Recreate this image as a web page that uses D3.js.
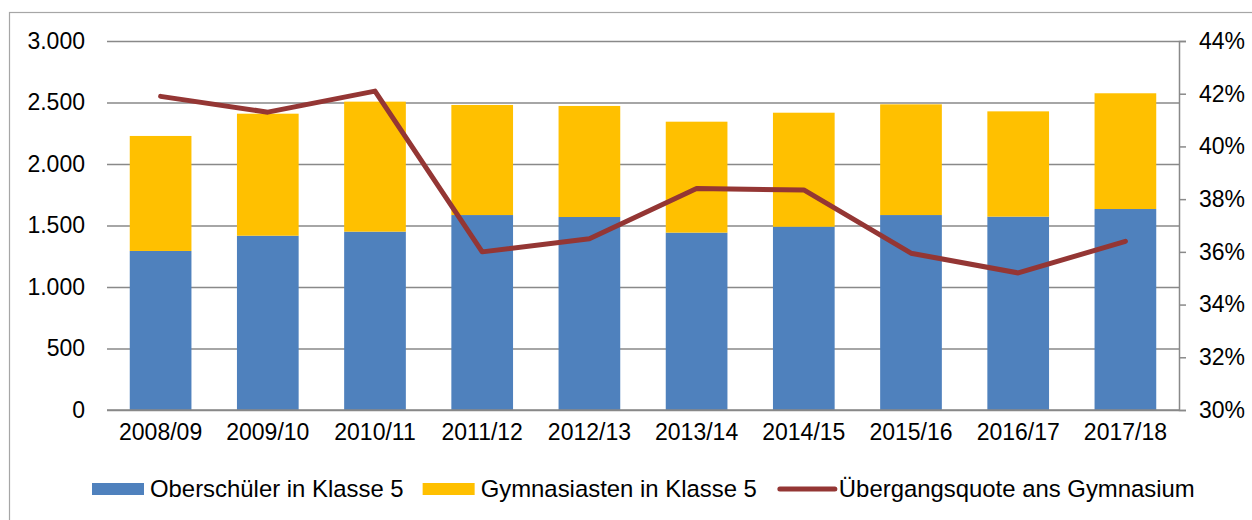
<!DOCTYPE html>
<html><head><meta charset="utf-8">
<script src="https://cdn.jsdelivr.net/npm/d3@7"></script>
<style>
html,body{margin:0;padding:0;background:#fff;}
svg{display:block;font-family:"Liberation Sans",Arial,sans-serif;}
</style></head>
<body>
<svg id="chart" width="1252" height="520"></svg>
<script>
const categories = ["2008/09","2009/10","2010/11","2011/12","2012/13","2013/14","2014/15","2015/16","2016/17","2017/18"];
const oberschueler = [1293,1417,1450,1585,1569,1442,1490,1585,1572,1634];
const gymnasiasten = [935,992,1057,895,903,902,927,900,856,941];
const quote = [0.419,0.413,0.421,0.360,0.365,0.384,0.3835,0.3595,0.352,0.364];
const leftTicks = [0,500,1000,1500,2000,2500,3000];
const rightTicks = [0.30,0.32,0.34,0.36,0.38,0.40,0.42,0.44];
const seriesNames = ["Oberschüler in Klasse 5","Gymnasiasten in Klasse 5","Übergangsquote ans Gymnasium"];

const colors = {ober:"#4F81BD", gym:"#FFC000", line:"#943634", grid:"#898989"};
const svg = d3.select("#chart");
const fontSize = 23;
const legendFontSize = 23.9;

const plotL = 107, plotR = 1179, plotT = 41, plotB = 410;
const de = d3.formatLocale({decimal:",", thousands:".", grouping:[3], currency:["","€"]});
const fmtL = de.format(",.0f");
const fmtR = de.format(".0%");

// frame
svg.append("rect").attr("x",9.5).attr("y",12.5).attr("width",1300).attr("height",600)
  .attr("fill","none").attr("stroke","#a6a6a6").attr("stroke-width",1.2);

const x = d3.scaleBand().domain(categories).range([plotL,plotR]).paddingInner(0.4245).paddingOuter(0.21225);
const y = d3.scaleLinear().domain([0,3000]).range([plotB,plotT]);
const y2 = d3.scaleLinear().domain([0.30,0.44]).range([plotB,plotT]);

// gridlines
const gAxisL = svg.append("g").attr("transform",`translate(${plotL},0)`)
  .call(d3.axisLeft(y).tickValues(leftTicks).tickFormat(fmtL).tickSize(-(plotR-plotL)).tickPadding(22));
gAxisL.select(".domain").remove();
gAxisL.selectAll(".tick line").attr("stroke",colors.grid).attr("stroke-width",1.5);
gAxisL.selectAll(".tick text").attr("font-size",fontSize).attr("fill","#000").attr("font-family","Liberation Sans, Arial, sans-serif");

// bars
const stackData = categories.map((c,i)=>({cat:c, ober:oberschueler[i], gym:gymnasiasten[i]}));
const stack = d3.stack().keys(["ober","gym"])(stackData);
svg.append("g").selectAll("g").data(stack).join("g")
  .attr("fill",d=>d.key==="ober"?colors.ober:colors.gym)
  .selectAll("rect").data(d=>d).join("rect")
  .attr("x",d=>x(d.data.cat)).attr("width",x.bandwidth())
  .attr("y",d=>y(d[1])).attr("height",d=>y(d[0])-y(d[1]));

// bottom axis line
svg.append("line").attr("x1",plotL).attr("x2",plotR).attr("y1",plotB).attr("y2",plotB)
  .attr("stroke",colors.grid).attr("stroke-width",1.5);

// x labels
const gx = svg.append("g").attr("transform",`translate(0,${plotB})`)
  .call(d3.axisBottom(x).tickSize(0).tickPadding(14));
gx.select(".domain").remove();
gx.selectAll(".tick text").attr("font-size",fontSize).attr("fill","#000").attr("font-family","Liberation Sans, Arial, sans-serif");

// right axis
const gR = svg.append("g").attr("transform",`translate(${plotR},0)`)
  .call(d3.axisRight(y2).tickValues(rightTicks).tickFormat(fmtR).tickSize(7).tickPadding(13));
gR.select(".domain").attr("stroke",colors.grid).attr("stroke-width",1.5);
gR.selectAll(".tick line").attr("stroke",colors.grid).attr("stroke-width",1.5);
gR.selectAll(".tick text").attr("font-size",fontSize).attr("fill","#000").attr("font-family","Liberation Sans, Arial, sans-serif");

// line
const line = d3.line().x((d,i)=>x(categories[i])+x.bandwidth()/2).y(d=>y2(d));
svg.append("path").datum(quote).attr("d",line).attr("fill","none")
  .attr("stroke",colors.line).attr("stroke-width",5).attr("stroke-linejoin","round").attr("stroke-linecap","round");

// legend
const leg = svg.append("g");
let lx = 92; const ly = 489;
seriesNames.forEach((name,i)=>{
  if(i<2){
    leg.append("rect").attr("x",lx).attr("y",ly-6).attr("width",52).attr("height",12)
      .attr("fill",i===0?colors.ober:colors.gym);
  } else {
    leg.append("line").attr("x1",lx+4).attr("x2",lx+59).attr("y1",ly).attr("y2",ly)
      .attr("stroke",colors.line).attr("stroke-width",5).attr("stroke-linecap","round");
  }
  const tx = i<2 ? lx+58 : lx+63;
  const t = leg.append("text").attr("x",tx).attr("y",ly).attr("dy","0.35em")
    .attr("font-size",legendFontSize).attr("fill","#000").text(name);
  lx = tx + t.node().getComputedTextLength() + 19;
});
</script>
</body></html>
